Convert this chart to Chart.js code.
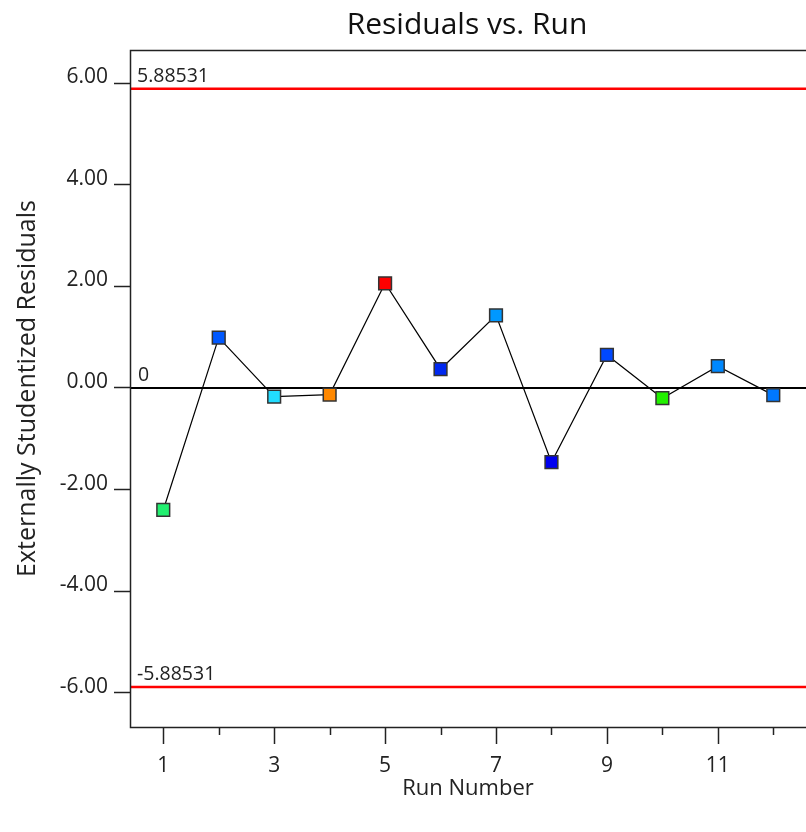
<!DOCTYPE html>
<html>
<head>
<meta charset="utf-8">
<script src="https://cdn.jsdelivr.net/npm/chart.js@4"></script>
<style>
html,body{margin:0;padding:0;background:#fff;}
#wrap{width:806px;height:832px;position:relative;}
</style>
</head>
<body>
<div id="wrap"><canvas id="c" width="806" height="832"></canvas></div>
<script>
const runs = [1,2,3,4,5,6,7,8,9,10,11,12];
const residuals = [-2.40, 0.99, -0.17, -0.13, 2.06, 0.37, 1.43, -1.46, 0.65, -0.20, 0.43, -0.14];
const pointColors = ['#22f070','#0058ff','#22dcff','#ff8800','#ff0000','#0028f0','#0098ff','#0000f0','#0048ff','#22f000','#0088ff','#0078ff'];
const limitValues = [5.88531, -5.88531];
const limitLabels = ['5.88531', '-5.88531'];
const yTicks = [-6, -4, -2, 0, 2, 4, 6];
const xTicks = runs;
const titleText = 'Residuals vs. Run';
const xTitle = 'Run Number';
const yTitle = 'Externally Studentized Residuals';
const FONT = "'Open Sans', 'Noto Sans', sans-serif";

const decor = {
  id: 'decor',
  beforeDatasetsDraw(chart) {
    const {ctx, chartArea: a, scales: {x, y}} = chart;
    ctx.save();
    const y0 = y.getPixelForValue(0);
    ctx.strokeStyle = '#000';
    ctx.lineWidth = 2;
    ctx.beginPath(); ctx.moveTo(a.left, y0); ctx.lineTo(a.right, y0); ctx.stroke();
    ctx.strokeStyle = '#ff0000';
    ctx.lineWidth = 2.5;
    limitValues.forEach(v => {
      const py = y.getPixelForValue(v);
      ctx.beginPath(); ctx.moveTo(a.left, py); ctx.lineTo(a.right, py); ctx.stroke();
    });
    ctx.fillStyle = '#222';
    ctx.font = "19.5px " + FONT;
    ctx.textAlign = 'left';
    ctx.textBaseline = 'bottom';
    limitValues.forEach((v, i) => {
      ctx.fillText(limitLabels[i], a.left + 7, y.getPixelForValue(v) - 3);
    });
    ctx.fillText('0', a.left + 8, y0 - 3);
    ctx.restore();
  },
  afterDraw(chart) {
    const {ctx, chartArea: a, scales: {x}} = chart;
    ctx.save();
    ctx.strokeStyle = '#222';
    ctx.lineWidth = 1.5;
    ctx.beginPath();
    ctx.moveTo(a.right, a.top + 0.5);
    ctx.lineTo(a.left + 0.5, a.top + 0.5);
    ctx.lineTo(a.left + 0.5, a.bottom + 0.5);
    ctx.lineTo(a.right, a.bottom + 0.5);
    ctx.stroke();
    xTicks.forEach(t => {
      const px = Math.round(x.getPixelForValue(t)) + 0.5;
      const len = (t % 2 === 1) ? 17 : 8;
      ctx.beginPath(); ctx.moveTo(px, a.bottom); ctx.lineTo(px, a.bottom + len); ctx.stroke();
    });
    ctx.fillStyle = '#111';
    ctx.font = "30px " + FONT;
    ctx.textAlign = 'center';
    ctx.textBaseline = 'middle';
    ctx.fillText(titleText, (a.left + a.right) / 2 - 1, 25);
    ctx.restore();
  }
};

new Chart(document.getElementById('c'), {
  type: 'line',
  data: {
    datasets: [{
      data: runs.map((r, i) => ({x: r, y: residuals[i]})),
      borderColor: '#000',
      borderWidth: 1.2,
      pointStyle: 'rect',
      pointRadius: 9,
      pointHoverRadius: 9,
      pointBackgroundColor: pointColors,
      pointBorderColor: '#333',
      pointBorderWidth: 1.5,
      tension: 0,
      fill: false
    }]
  },
  options: {
    responsive: false,
    animation: false,
    events: [],
    layout: {autoPadding: false, padding: {top: 50, left: 0, right: 0, bottom: 0}},
    plugins: {legend: {display: false}, title: {display: false}, tooltip: {enabled: false}},
    scales: {
      x: {
        type: 'linear',
        min: 0.4, max: 12.59,
        afterBuildTicks: s => { s.ticks = xTicks.map(v => ({value: v})); },
        afterFit: s => { s.height = 105; s.paddingLeft = 0; s.paddingRight = 0; },
        grid: {display: false, drawTicks: false},
        border: {display: false},
        ticks: {
          autoSkip: false, maxRotation: 0,
          padding: 26,
          color: '#222',
          font: {size: 21, family: FONT},
          callback: v => (v % 2 === 1 ? String(v) : '')
        },
        title: {display: true, text: xTitle, color: '#222', font: {size: 22, family: FONT}, padding: {top: 0, bottom: 30}}
      },
      y: {
        type: 'linear',
        min: -6.67, max: 6.65,
        afterBuildTicks: s => { s.ticks = yTicks.map(v => ({value: v})); },
        afterFit: s => { s.width = 130; s.paddingTop = 0; s.paddingBottom = 0; },
        grid: {drawOnChartArea: false, drawTicks: true, tickLength: 16, tickColor: '#222', tickWidth: 1.5},
        border: {display: false},
        ticks: {
          padding: 6,
          labelOffset: -6,
          color: '#222',
          font: {size: 21, family: FONT},
          callback: v => v.toFixed(2)
        },
        title: {display: true, text: yTitle, color: '#222', font: {size: 25, family: FONT}, padding: {top: 13, bottom: 0}}
      }
    }
  },
  plugins: [decor]
});
</script>
</body>
</html>
